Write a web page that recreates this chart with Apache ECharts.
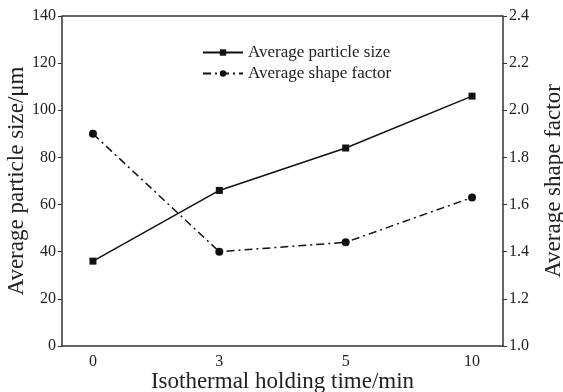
<!DOCTYPE html>
<html>
<head>
<meta charset="utf-8">
<script src="https://cdn.jsdelivr.net/npm/echarts@6/dist/echarts.min.js"></script>
<style>
  html, body { margin: 0; padding: 0; background: #fff; }
  #chart { width: 563px; height: 392px; }
</style>
</head>
<body>
<div id="chart"></div>
<script>
// 数据
var timeLabels = ['0', '3', '5', '10']
var particleSize = [36, 66, 84, 106]
var shapeFactor = [1.9, 1.4, 1.44, 1.63]

var font = '"Liberation Serif", "Times New Roman", serif'
var axisColor = '#333'

var chartDom = echarts.init(document.getElementById('chart'))
var option = {
  animation: false,
  textStyle: { fontFamily: font, color: '#222' },
  legend: {
    top: 39,
    left: 197,
    orient: 'vertical',
    itemWidth: 40,
    itemHeight: 8,
    itemGap: 4,
    textStyle: { fontFamily: font, fontSize: 17, color: '#222' },
    data: ['Average particle size', 'Average shape factor']
  },
  grid: { left: 62, right: 60, top: 16, bottom: 46, containLabel: false, outerBoundsMode: 'none' },
  xAxis: {
    type: 'value',
    min: -0.245,
    max: 3.245,
    name: 'Isothermal holding time/min',
    nameLocation: 'middle',
    nameGap: 24,
    nameMoveOverlap: false,
    nameTextStyle: { fontFamily: font, fontSize: 23, color: '#222' },
    splitLine: { show: false },
    axisTick: { show: false },
    axisLine: { onZero: false, lineStyle: { color: axisColor, width: 1.5 } },
    axisLabel: {
      customValues: [0, 1, 2, 3],
      formatter: function (v) { return timeLabels[Math.round(v)] },
      fontFamily: font, fontSize: 16, color: '#222', margin: 8
    }
  },
  yAxis: [
    {
      type: 'value',
      min: 0, max: 140, interval: 20,
      name: 'Average particle size/μm',
      nameLocation: 'middle',
      nameRotate: 90,
      nameGap: 34,
      nameMoveOverlap: false,
      nameTextStyle: { fontFamily: font, fontSize: 23, color: '#222' },
      splitLine: { show: false },
      axisLine: { show: true, onZero: false, lineStyle: { color: axisColor, width: 1.5 } },
      axisTick: { show: true, length: 4, lineStyle: { color: axisColor } },
      axisLabel: { fontFamily: font, fontSize: 16, color: '#222', margin: 6 }
    },
    {
      type: 'value',
      min: 1.0, max: 2.4, interval: 0.2,
      name: 'Average shape factor',
      nameLocation: 'middle',
      nameRotate: 90,
      nameGap: 39,
      nameMoveOverlap: false,
      nameTextStyle: { fontFamily: font, fontSize: 23, color: '#222' },
      splitLine: { show: false },
      axisLine: { show: true, onZero: false, lineStyle: { color: axisColor, width: 1.5 } },
      axisTick: { show: true, length: 4, lineStyle: { color: axisColor } },
      axisLabel: {
        fontFamily: font, fontSize: 16, color: '#222', margin: 6,
        formatter: function (v) { return v.toFixed(1) }
      }
    }
  ],
  series: [
    {
      name: 'Average particle size',
      type: 'line',
      yAxisIndex: 0,
      data: particleSize.map(function (v, i) { return [i, v] }),
      symbol: 'rect',
      symbolSize: 7,
      lineStyle: { color: '#111', width: 1.5 },
      itemStyle: { color: '#111' }
    },
    {
      name: 'Average shape factor',
      type: 'line',
      yAxisIndex: 1,
      data: shapeFactor.map(function (v, i) { return [i, v] }),
      symbol: 'circle',
      symbolSize: 8,
      lineStyle: { color: '#111', width: 1.5, type: [8, 4, 2, 4] },
      itemStyle: { color: '#111' }
    }
  ],
  graphic: [
    {
      // 上边框
      type: 'line',
      shape: { x1: 62, y1: 16, x2: 503, y2: 16 },
      style: { stroke: axisColor, lineWidth: 1.5 }
    }
  ]
}
chartDom.setOption(option)
</script>
</body>
</html>
